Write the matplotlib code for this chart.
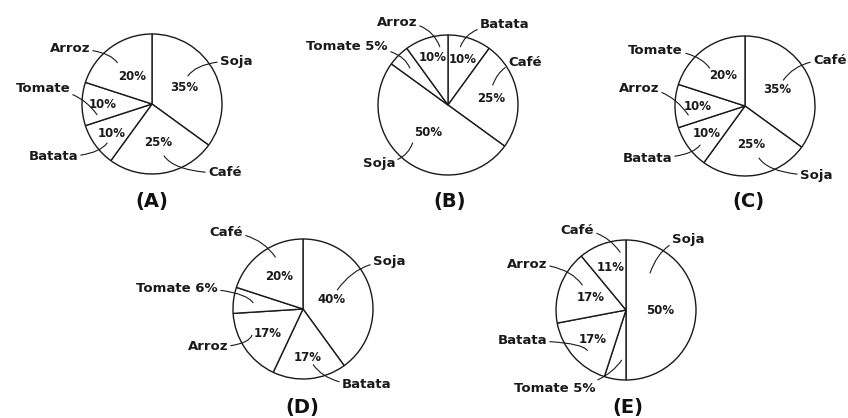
import numpy as np
import matplotlib.pyplot as plt

W, H = 848, 418

# valores de cada grafico, em sentido horario a partir do topo
cats_A = ['Soja', 'Café', 'Batata', 'Tomate', 'Arroz']
vals_A = [35, 25, 10, 10, 20]
cats_B = ['Batata', 'Café', 'Soja', 'Tomate', 'Arroz']
vals_B = [10, 25, 50, 5, 10]
cats_C = ['Café', 'Soja', 'Batata', 'Arroz', 'Tomate']
vals_C = [35, 25, 10, 10, 20]
cats_D = ['Soja', 'Batata', 'Arroz', 'Tomate', 'Café']
vals_D = [40, 17, 17, 6, 20]
cats_E = ['Soja', 'Tomate', 'Batata', 'Arroz', 'Café']
vals_E = [50, 5, 17, 17, 11]
titles = ['(A)', '(B)', '(C)', '(D)', '(E)']

# layout (pixels from top-left): centre, title, pct distance (None -> pct goes in label),
# label text position, leader end (fraction of radius, angle offset from wedge middle)
layout = [
    dict(c=(152, 104), t=(152, 201),
         pct=[0.51, 0.55, 0.72, 0.70, 0.49],
         lab=[(220, 61, 'left'), (208, 173, 'left'), (78, 157, 'right'), (70, 89, 'right'), (90, 49, 'right')],
         lead=[(0.65, 11), (0.76, 4), (0.85, 5), (0.80, 11), (0.77, 4)]),
    dict(c=(448, 105), t=(450, 201),
         pct=[0.69, 0.63, 0.49, None, 0.72],
         lab=[(480, 25, 'left'), (508, 62, 'left'), (395, 163, 'right'), (388, 46, 'right'), (417, 22, 'right')],
         lead=[(0.85, 6), (0.70, 15), (0.74, -7), (0.76, 1), (0.84, -10)]),
    dict(c=(745, 106), t=(748, 201),
         pct=[0.52, 0.56, 0.67, 0.67, 0.54],
         lab=[(813, 60, 'left'), (800, 175, 'left'), (672, 158, 'right'), (659, 88, 'right'), (683, 50, 'right')],
         lead=[(0.66, 7), (0.77, 6), (0.85, 5), (0.82, 9), (0.74, 7)]),
    dict(c=(303, 309), t=(302, 407),
         pct=[0.43, 0.69, 0.61, None, 0.57],
         lab=[(373, 262, 'left'), (342, 385, 'left'), (228, 347, 'right'), (218, 288, 'right'), (243, 233, 'right')],
         lead=[(0.56, 11), (0.81, 5), (0.82, -7), (0.72, 0), (0.84, -8)]),
    dict(c=(626, 310), t=(628, 407),
         pct=[0.49, None, 0.63, 0.54, 0.65],
         lab=[(672, 240, 'left'), (595, 388, 'right'), (547, 341, 'right'), (547, 264, 'right'), (594, 230, 'right')],
         lead=[(0.63, 57), (0.72, 4), (0.80, 5), (0.72, -10), (0.83, -14)]),
]

R = 70
fig = plt.figure(figsize=(W / 100, H / 100), dpi=100)
ax = fig.add_axes([0, 0, 1, 1])

all_cats = [cats_A, cats_B, cats_C, cats_D, cats_E]
all_vals = [vals_A, vals_B, vals_C, vals_D, vals_E]

for cats, vals, title, lay in zip(all_cats, all_vals, titles, layout):
    cx, cy = lay['c'][0], H - lay['c'][1]
    wedges, _ = ax.pie(vals, center=(cx, cy), radius=R, startangle=90, counterclock=False,
                       frame=True,
                       wedgeprops=dict(facecolor='white', edgecolor='#1a1a1a', linewidth=1.0))
    for w, cat, v, pd_, (lx, ly, ha), (fr, dth) in zip(wedges, cats, vals, lay['pct'], lay['lab'], lay['lead']):
        mid = np.radians((w.theta1 + w.theta2) / 2)
        if pd_ is not None:
            ax.text(cx + pd_ * R * np.cos(mid), cy + pd_ * R * np.sin(mid), f'{v}%',
                    ha='center', va='center', fontsize=8.5, fontweight='bold', color='#1a1a1a')
            txt = cat
        else:
            txt = f'{cat} {v}%'
        a = mid + np.radians(dth)
        ex, ey = cx + fr * R * np.cos(a), cy + fr * R * np.sin(a)
        ly = H - ly
        dx, dy = ex - lx, ey - ly
        steep = 70 if abs(dx) < 25 else 55
        angB = steep if dx * dy > 0 else -steep
        ax.annotate(txt, xy=(ex, ey), xytext=(lx, ly), ha=ha, va='center',
                    fontsize=9.5, fontweight='bold', color='#1a1a1a',
                    arrowprops=dict(arrowstyle='-', color='#1a1a1a', lw=0.8,
                                    shrinkA=0, shrinkB=0,
                                    connectionstyle=f'angle3,angleA=0,angleB={angB}'))
    ax.text(lay['t'][0], H - lay['t'][1], title, ha='center', va='center',
            fontsize=14, fontweight='bold', color='#111111')

ax.set_xlim(0, W)
ax.set_ylim(0, H)
ax.set_aspect('auto')
ax.axis('off')

plt.savefig('out.png', dpi=100, facecolor='white')
